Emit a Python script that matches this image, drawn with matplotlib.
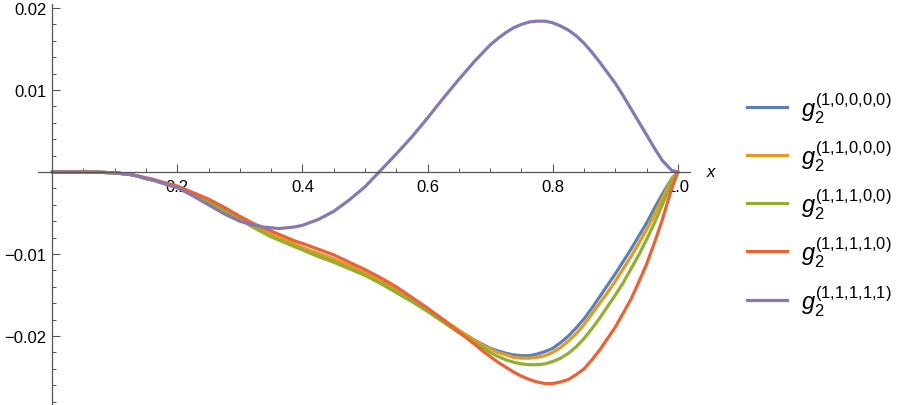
import matplotlib
matplotlib.use("Agg")
import matplotlib.pyplot as plt
from matplotlib.lines import Line2D
import numpy as np

plt.rcParams['font.family'] = ['Liberation Sans', 'DejaVu Sans']
plt.rcParams['mathtext.fontset'] = 'custom'
plt.rcParams['mathtext.rm'] = 'Liberation Sans'
plt.rcParams['mathtext.it'] = 'Liberation Sans:italic'

x = [0.0, 0.025, 0.05, 0.075, 0.1, 0.125,
     0.1375, 0.15, 0.1625, 0.175,
     0.2, 0.225, 0.25, 0.275, 0.3, 0.325,
     0.3375, 0.35, 0.3625, 0.375, 0.3875,
     0.4, 0.425, 0.45, 0.475, 0.5, 0.525, 0.55, 0.575, 0.6, 0.625, 0.65, 0.675,
     0.6875, 0.7, 0.7125, 0.725, 0.7375, 0.75, 0.7625, 0.775, 0.7875, 0.8,
     0.8125, 0.825, 0.8375, 0.85, 0.8625, 0.875, 0.8875, 0.9,
     0.9125, 0.925, 0.9375, 0.95, 0.9625, 0.975, 0.99, 1.0]

g_10000 = [0, 0, 0, -0.00003, -0.0001, -0.0003,
           -0.0005, -0.0008, -0.0010, -0.0013,
           -0.0019, -0.0027, -0.0036, -0.0046, -0.0057, -0.0068,
           -0.0073, -0.0077, -0.0081, -0.0085, -0.0090,
           -0.0094, -0.0101, -0.0108, -0.0116, -0.0125, -0.0134, -0.0145, -0.0157,
           -0.0169, -0.0182, -0.0194, -0.0205,
           -0.0210, -0.0215, -0.0218, -0.0221, -0.0223, -0.0224, -0.0224, -0.0222,
           -0.0219, -0.0215,
           -0.0208, -0.0200, -0.0190, -0.0179, -0.0166, -0.0152, -0.0138, -0.0124,
           -0.0109, -0.0094, -0.0078, -0.0062, -0.0044, -0.0027, -0.0008, 0]
g_11000 = [0, 0, 0, -0.00003, -0.0001, -0.0003,
           -0.0005, -0.0008, -0.0010, -0.0013,
           -0.0019, -0.0027, -0.0036, -0.0046, -0.0057, -0.0067,
           -0.0072, -0.0076, -0.0080, -0.0084, -0.0088,
           -0.0092, -0.0099, -0.0106, -0.0114, -0.0123, -0.0132, -0.0143, -0.0155,
           -0.0167, -0.0180, -0.0193, -0.0205,
           -0.0211, -0.0216, -0.0220, -0.0223, -0.0226, -0.0227, -0.0227, -0.0226,
           -0.0224, -0.0220,
           -0.0214, -0.0206, -0.0197, -0.0186, -0.0173, -0.0160, -0.0147, -0.0133,
           -0.0118, -0.0103, -0.0087, -0.0070, -0.0052, -0.0032, -0.0009, 0]
g_11100 = [0, 0, 0, -0.00003, -0.0001, -0.0003,
           -0.0005, -0.0008, -0.0010, -0.0013,
           -0.0019, -0.0027, -0.0036, -0.0047, -0.0058, -0.0069,
           -0.0074, -0.0079, -0.0083, -0.0087, -0.0091,
           -0.0095, -0.0103, -0.0110, -0.0118, -0.0126, -0.0136, -0.0147, -0.0158,
           -0.0170, -0.0183, -0.0196, -0.0208,
           -0.0214, -0.0220, -0.0225, -0.0229, -0.0232, -0.0234, -0.0235, -0.0235,
           -0.0234, -0.0231,
           -0.0227, -0.0221, -0.0213, -0.0203, -0.0191, -0.0178, -0.0164, -0.0150,
           -0.0135, -0.0118, -0.0101, -0.0082, -0.0062, -0.0040, -0.0012, 0]
g_11110 = [0, 0, 0, -0.00003, -0.0001, -0.0003,
           -0.0005, -0.0007, -0.0009, -0.0012,
           -0.0017, -0.0025, -0.0033, -0.0043, -0.0054, -0.0064,
           -0.0068, -0.0072, -0.0076, -0.0080, -0.0084,
           -0.0087, -0.0094, -0.0101, -0.0110, -0.0119, -0.0129, -0.0140, -0.0153,
           -0.0166, -0.0180, -0.0195, -0.0210,
           -0.0218, -0.0225, -0.0232, -0.0238, -0.0244, -0.0249, -0.0253, -0.0256,
           -0.0258, -0.0258,
           -0.0256, -0.0253, -0.0247, -0.0240, -0.0229, -0.0217, -0.0203, -0.0189,
           -0.0172, -0.0155, -0.0134, -0.0112, -0.0086, -0.0058, -0.0020, 0]
g_11111 = [0, 0, 0, -0.00003, -0.0001, -0.0003,
           -0.0005, -0.0008, -0.0010, -0.0013,
           -0.0019, -0.0029, -0.0040, -0.0051, -0.0060, -0.0065,
           -0.0067, -0.0068, -0.0069, -0.0068, -0.0067,
           -0.0065, -0.0058, -0.0048, -0.0034, -0.0018, 0.0002, 0.0022, 0.0043,
           0.0066, 0.0090, 0.0113, 0.0135,
           0.0145, 0.0155, 0.0163, 0.0170, 0.0176, 0.0180, 0.0183, 0.0184,
           0.0184, 0.0182,
           0.0178, 0.0173, 0.0166, 0.0157, 0.0146, 0.0134, 0.0121, 0.0108,
           0.0093, 0.0077, 0.0061, 0.0045, 0.0029, 0.0014, 0.0002, 0]

series = [g_10000, g_11000, g_11100, g_11110, g_11111]
labels = [r'$g_2^{(1{,}0{,}0{,}0{,}0)}$', r'$g_2^{(1{,}1{,}0{,}0{,}0)}$',
          r'$g_2^{(1{,}1{,}1{,}0{,}0)}$', r'$g_2^{(1{,}1{,}1{,}1{,}0)}$',
          r'$g_2^{(1{,}1{,}1{,}1{,}1)}$']
colors = ['#5E81B5', '#E19C24', '#8FB032', '#EB6235', '#8778B3']

W, H = 900, 406
fig = plt.figure(figsize=(W / 100, H / 100), dpi=100)
ax = fig.add_axes([38 / W, 1 / H, (690 - 38) / W, 400 / H])

for ys, c in zip(series, colors):
    ax.plot(x, ys, color=c, lw=2.3, solid_capstyle='round', solid_joinstyle='round')

ax.set_xlim(-0.0224, 1.0192)
ax.set_ylim(-0.02829, 0.02049)

for s in ['top', 'right']:
    ax.spines[s].set_visible(False)
ax.spines['left'].set_position(('data', 0))
ax.spines['bottom'].set_position(('data', 0))
for s in ['left', 'bottom']:
    ax.spines[s].set_color('#555555')
    ax.spines[s].set_linewidth(0.9)

ax.set_xticks([0.2, 0.4, 0.6, 0.8, 1.0])
ax.set_xticklabels(['0.2', '0.4', '0.6', '0.8', '1.0'])
ax.set_xticks(np.arange(0.05, 1.0, 0.05), minor=True)
ax.set_yticks([-0.02, -0.01, 0.01, 0.02])
ax.set_yticklabels(['\u22120.02', '\u22120.01', '0.01', '0.02'])
ax.set_yticks([-0.028, -0.026, -0.024, -0.022, -0.018, -0.016, -0.014, -0.012,
               -0.008, -0.006, -0.004, -0.002, 0.002, 0.004, 0.006, 0.008,
               0.012, 0.014, 0.016, 0.018], minor=True)

ax.tick_params(axis='both', which='major', direction='in', length=5.5, width=0.8,
               color='#555555', labelsize=12, labelcolor='black')
ax.tick_params(axis='both', which='minor', direction='in', length=3, width=0.7,
               color='#555555')
ax.tick_params(axis='x', pad=5)
ax.tick_params(axis='y', pad=4)

fig.text(711 / W, 1 - 173 / H, 'x', fontsize=12, style='italic', ha='center', va='center')

# legend
ys_leg = [108, 156, 204, 252, 301]
for yp, c, lab in zip(ys_leg, colors, labels):
    fy = 1 - yp / H
    fig.add_artist(Line2D([747 / W, 787 / W], [fy, fy], color=c, lw=2.3,
                          transform=fig.transFigure))
    fig.text(801 / W, fy - 1 / H, lab, fontsize=17, ha='left', va='center')

fig.savefig('out.png', dpi=100)
